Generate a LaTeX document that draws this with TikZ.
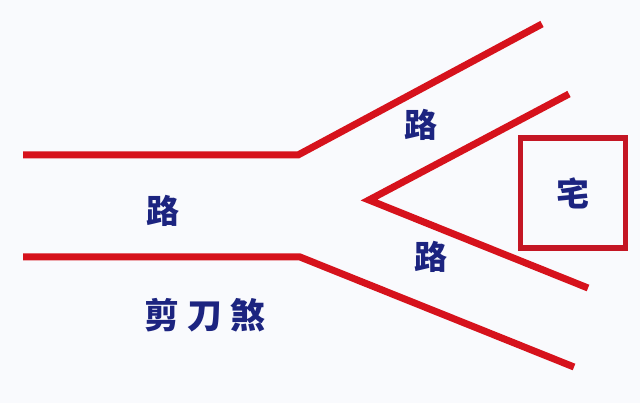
\documentclass[tikz,border=0pt]{standalone}
\usepackage{fontspec}
\newfontfamily\cjk{Noto Sans CJK SC}
\definecolor{roadred}{RGB}{214,18,28}
\definecolor{housered}{RGB}{196,22,36}
\definecolor{inkblue}{RGB}{28,36,128}
\definecolor{paper}{RGB}{249,250,253}

\begin{document}
\begin{tikzpicture}[x=1pt, y=-1pt]
    % 背景
    \fill[paper] (0,0) rectangle (640,403);
    \useasboundingbox (0,0) rectangle (640,403);

    % 点の定義
    \coordinate (TL) at (23,155);
    \coordinate (TB) at (298,155);
    \coordinate (TE) at (542,24);
    \coordinate (BL) at (23,257);
    \coordinate (BB) at (300,257);
    \coordinate (BE) at (574,367);
    \coordinate (WU) at (569,94);
    \coordinate (WT) at (369,200);
    \coordinate (WD) at (588,288);

    % 道路の線
    \draw[roadred, line width=7pt, line join=miter] (TL) -- (TB) -- (TE);
    \draw[roadred, line width=7pt, line join=miter] (BL) -- (BB) -- (BE);
    \draw[roadred, line width=7pt, line join=miter] (WU) -- (WT) -- (WD);

    % 住宅
    \node[draw=housered, line width=5.5pt, minimum width=105pt, minimum height=110pt, inner sep=0pt] (H) at (573,193) {};

    % 文字
    \node[inkblue, font=\cjk\bfseries\fontsize{33}{33}\selectfont] (R1) at (163,211) {路};
    \node[inkblue, font=\cjk\bfseries\fontsize{33}{33}\selectfont] (R2) at (421,125) {路};
    \node[inkblue, font=\cjk\bfseries\fontsize{33}{33}\selectfont] (R3) at (431,257) {路};
    \node[inkblue, font=\cjk\bfseries\fontsize{33}{33}\selectfont] at (H.center) {宅};
    \node[inkblue, font=\cjk\bfseries\fontsize{35}{35}\selectfont] (S) at (205,315) {剪\hspace{8pt}刀\hspace{8pt}煞};
\end{tikzpicture}
\end{document}
